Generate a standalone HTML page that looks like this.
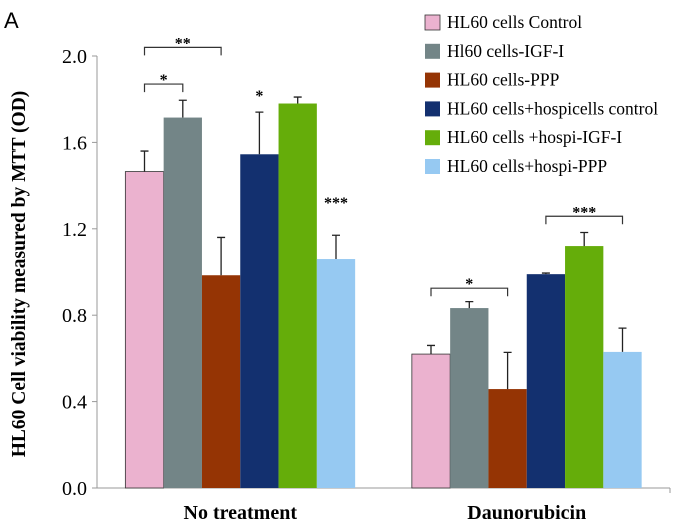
<!DOCTYPE html>
<html><head><meta charset="utf-8"><style>
body{margin:0;background:#fff}
svg{display:block;font-family:"Liberation Serif",serif}
</style></head><body>
<svg id="chart" width="680" height="524" xmlns="http://www.w3.org/2000/svg">
<text x="4" y="28" font-family="Liberation Sans,sans-serif" font-size="22">A</text>
<text transform="translate(25,274) rotate(-90)" text-anchor="middle" font-size="19.5" font-weight="bold">HL60 Cell viability measured by MTT (OD)</text>
<g id="axes"></g><g id="bars"></g><g id="annot"></g><g id="legend"></g>
</svg>
<script>
const categories=["No treatment","Daunorubicin"];
const seriesNames=["HL60 cells Control","Hl60 cells-IGF-I","HL60 cells-PPP","HL60 cells+hospicells control","HL60 cells +hospi-IGF-I","HL60 cells+hospi-PPP"];
const colors=["#ebb2cf","#738587","#953404","#13306f","#65ad0a","#96c9f2"];
const valuesNoTreatment=[1.465,1.715,0.985,1.545,1.78,1.06];
const valuesDauno=[0.62,0.833,0.458,0.99,1.12,0.63];
const errNoTreatment=[0.095,0.08,0.175,0.195,0.03,0.11];
const errDauno=[0.04,0.03,0.17,0.005,0.063,0.11];
const yTicks=[0,0.4,0.8,1.2,1.6,2.0];
const NS="http://www.w3.org/2000/svg";
const x0=97,x1=670,y0=488,yTop=56,yMax=2.0;
const catW=(x1-x0)/categories.length, barW=38.3;
function yS(v){return y0-(v/yMax)*(y0-yTop);}
function barX(c,s){return x0+catW*c+catW/2-barW*3+s*barW;}
function mk(tag,attrs,parent){const e=document.createElementNS(NS,tag);for(const k in attrs)e.setAttribute(k,attrs[k]);parent.appendChild(e);return e;}
const axes=document.getElementById('axes'),bars=document.getElementById('bars'),annot=document.getElementById('annot'),legend=document.getElementById('legend');
let l=mk('line',{x1:x0,y1:yTop,x2:x0,y2:y0,stroke:'#999'},axes);


l=mk('line',{x1:x0-5,y1:y0,x2:x1,y2:y0,stroke:'#999'},axes);


mk('line',{x1:x1,y1:y0,x2:x1,y2:y0+5,stroke:'#999'},axes);
yTicks.forEach(t=>{
  mk('line',{x1:x0-5,y1:yS(t),x2:x0,y2:yS(t),stroke:'#999'},axes);
  const tx=mk('text',{x:87,y:yS(t)+7,'text-anchor':'end','font-size':20},axes);
  tx.textContent=t.toFixed(1);
  
  
});
categories.forEach((c,i)=>{
  const tx=mk('text',{x:x0+catW*i+catW/2,y:519,'text-anchor':'middle','font-size':20,'font-weight':'bold'},axes);
  tx.textContent=c;
  
  
});
[valuesNoTreatment,valuesDauno].forEach((vals,c)=>{
  const errs=c===0?errNoTreatment:errDauno;
  vals.forEach((v,s)=>{
    const bx=barX(c,s);
    const r=mk('rect',{x:bx,y:yS(v),width:barW,height:y0-yS(v),fill:colors[s],stroke:s===0?'#333':'none','stroke-width':s===0?0.8:0},bars);
    
    
    const cx=bx+barW/2,ye=yS(v+errs[s]);
    const e=mk('path',{d:`M${cx},${yS(v)}V${ye}M${cx-4},${ye}H${cx+4}`,stroke:'#222','stroke-width':1.3,fill:'none'},bars);
    
    
  });
});
function bracket(c,s1,s2,v,label){
  const a=barX(c,s1)+barW/2,b=barX(c,s2)+barW/2,y=yS(v);
  const p=mk('path',{d:`M${a},${y+8}V${y}H${b}V${y+8}`,stroke:'#333','stroke-width':1.2,fill:'none'},annot);
  
  
  star((a+b)/2,y-6,label);
}
function star(x,y,label){
  const t=mk('text',{x:x,y:y+7,'text-anchor':'middle','font-size':16,'font-weight':'bold'},annot);
  t.textContent=label;
  
  
}
bracket(0,0,1,1.87,'*');
bracket(0,0,2,2.04,'**');
star(barX(0,3)+barW/2,94,'*');
star(barX(0,5)+barW/2,201,'***');
bracket(1,0,2,0.925,'*');
bracket(1,3,5,1.258,'***');
seriesNames.forEach((n,i)=>{
  const y=15+i*28.8;
  const r=mk('rect',{x:425,y:y,width:15,height:15,fill:colors[i],stroke:i===0?'#333':'none','stroke-width':0.8},legend);
  
  
  const t=mk('text',{x:447,y:y+13,'font-size':17.5},legend);
  t.textContent=n;
  
  
});
</script>
</body></html>
